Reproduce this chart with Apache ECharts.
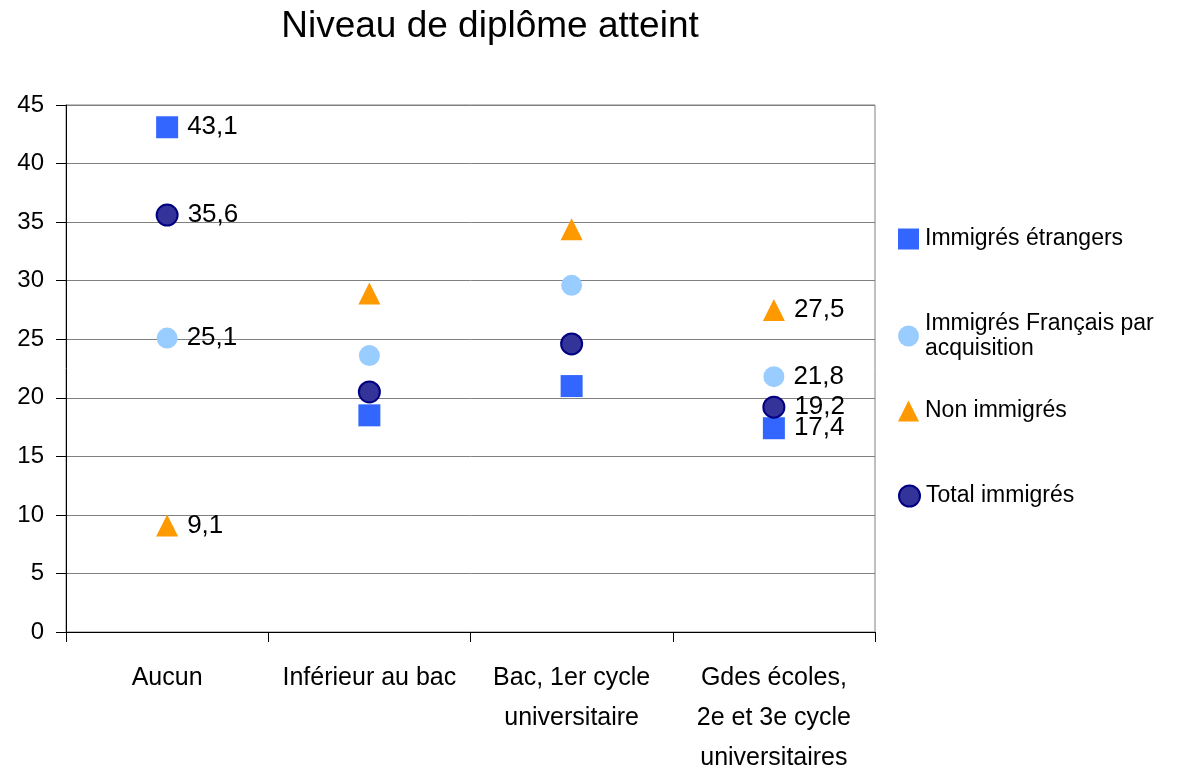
<!DOCTYPE html>
<html>
<head>
<meta charset="utf-8">
<script src="https://cdn.jsdelivr.net/npm/echarts@6/dist/echarts.min.js"></script>
<style>
  html, body { margin: 0; padding: 0; background: #fff; }
  #chart { width: 1194px; height: 776px; }
</style>
</head>
<body>
<div id="chart"></div>
<script>
// catégories et valeurs (%)
var categories = ["Aucun", "Inférieur au bac", "Bac, 1er cycle\nuniversitaire", "Gdes écoles,\n2e et 3e cycle\nuniversitaires"];
var etrangers = [43.1, 18.5, 21.0, 17.4];
var francaisAcq = [25.1, 23.6, 29.6, 21.8];
var nonImmigres = [9.1, 28.9, 34.4, 27.5];
var totalImmigres = [35.6, 20.5, 24.6, 19.2];
var yTicks = [0, 5, 10, 15, 20, 25, 30, 35, 40, 45];

var FONT = "Liberation Sans";

// étiquettes seulement pour la première et la dernière catégorie
function points(values) {
  return values.map(function (v, i) {
    return { value: v, label: { show: i === 0 || i === values.length - 1 } };
  });
}

function serie(name, values, symbol, color, border) {
  return {
    name: name,
    type: "scatter",
    symbol: symbol,
    symbolSize: symbol === "circle" ? 21 : 22,
    itemStyle: {
      color: color,
      borderColor: border || color,
      borderWidth: border ? 2 : 0,
      opacity: 1
    },
    label: {
      show: false,
      position: "right",
      distance: 9,
      color: "#000",
      fontFamily: FONT,
      fontSize: 26,
      formatter: function (p) {
        return String(p.value).replace(".", ",");
      }
    },
    emphasis: { disabled: true },
    data: points(values)
  };
}

function legendItem(name, top, lh) {
  return {
    orient: "vertical",
    left: 893,
    top: top,
    itemWidth: 21,
    itemHeight: 21,
    itemGap: 8,
    data: [name],
    textStyle: { fontFamily: FONT, fontSize: 23, color: "#000", lineHeight: lh, padding: [0, 0, 0, 1] },
    formatter: function (n) {
      return n === "Immigrés Français par acquisition" ? "Immigrés Français par\nacquisition" : n;
    }
  };
}

var chart = echarts.init(document.getElementById("chart"));
chart.setOption({
  animation: false,
  title: {
    text: "Niveau de diplôme atteint",
    left: 485,
    top: 3,
    textAlign: "center",
    textStyle: { fontFamily: FONT, fontSize: 37, fontWeight: "normal", color: "#000" }
  },
  legend: [
    legendItem("Immigrés étrangers", 219, 30),
    legendItem("Immigrés Français par acquisition", 306, 25),
    legendItem("Non immigrés", 391, 30),
    legendItem("Total immigrés", 476, 30)
  ],
  grid: {
    left: 66,
    right: 319,
    top: 105,
    bottom: 144,
    outerBoundsMode: "none",
    show: true,
    borderColor: "#808080",
    borderWidth: 1
  },
  xAxis: {
    type: "category",
    data: categories,
    boundaryGap: true,
    axisLine: { lineStyle: { color: "#000", width: 1 } },
    axisTick: { show: true, length: 10, interval: 0, lineStyle: { color: "#000" } },
    axisLabel: {
      interval: 0,
      margin: 26,
      color: "#000",
      fontFamily: FONT,
      fontSize: 25,
      lineHeight: 40
    },
    splitLine: { show: false }
  },
  yAxis: {
    type: "value",
    min: yTicks[0],
    max: yTicks[yTicks.length - 1],
    interval: 5,
    axisLine: { show: true, lineStyle: { color: "#000", width: 1 } },
    axisTick: { show: true, length: 10, lineStyle: { color: "#000" } },
    axisLabel: { margin: 22, color: "#000", fontFamily: FONT, fontSize: 24 },
    splitLine: { show: true, lineStyle: { color: "#808080", width: 1 } }
  },
  series: [
    serie("Immigrés étrangers", etrangers, "rect", "#3366FF"),
    serie("Immigrés Français par acquisition", francaisAcq, "circle", "#99CCFF"),
    serie("Non immigrés", nonImmigres, "triangle", "#FF9900"),
    serie("Total immigrés", totalImmigres, "circle", "#333399", "#000080")
  ]
});
</script>
</body>
</html>
